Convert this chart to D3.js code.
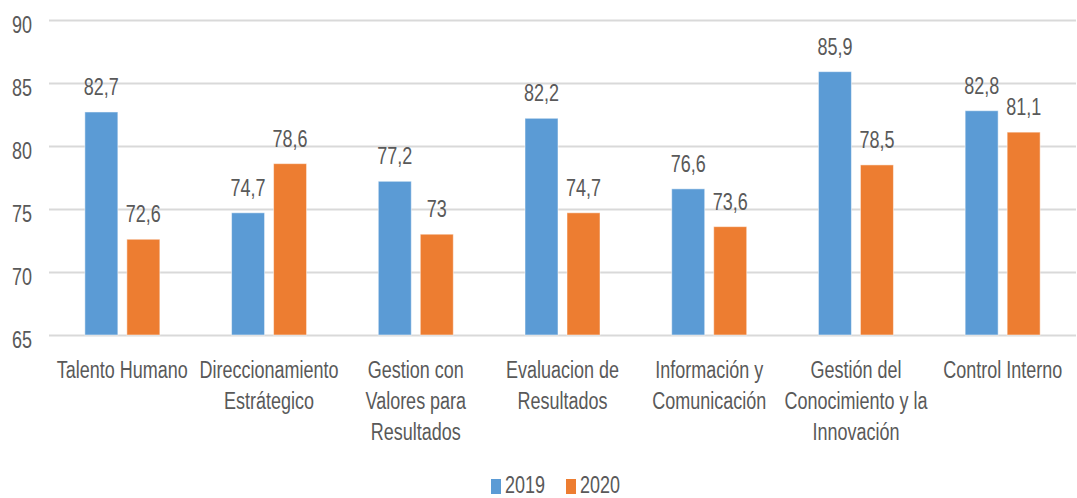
<!DOCTYPE html>
<html><head><meta charset="utf-8">
<script src="https://cdn.jsdelivr.net/npm/d3@7"></script>
<style>
html,body{margin:0;padding:0;background:#fff;}
svg text{font-family:"Liberation Sans",Arial,sans-serif;fill:#595959;}
</style></head>
<body><svg id="c" width="1077" height="498"></svg>
<script>
const categories = ["Talento Humano","Direccionamiento\nEstrátegico","Gestion con\nValores para\nResultados","Evaluacion de\nResultados","Información y\nComunicación","Gestión del\nConocimiento y la\nInnovación","Control Interno"];
const seriesNames = ["2019","2020"];
const values2019 = [82.7,74.7,77.2,82.2,76.6,85.9,82.8];
const values2020 = [72.6,78.6,73,74.7,73.6,78.5,81.1];
const valueLabels2019 = ["82,7","74,7","77,2","82,2","76,6","85,9","82,8"];
const valueLabels2020 = ["72,6","78,6","73","74,7","73,6","78,5","81,1"];
const yTicks = [65,70,75,80,85,90];
const colors = ["#5B9BD5","#ED7D31"];

(function(){
const svg = d3.select("#c");
const mLeft = 49, mRight = 1076, mTop = 20, mBottom = 335;
const FS = 18, SY = 1.32;
const x = d3.scaleBand().domain(categories).range([mLeft,mRight]).paddingInner(0).paddingOuter(0);
const y = d3.scaleLinear().domain([65,90]).range([mBottom,mTop]);
const barW = 33, gap = 9;

const yAxis = d3.axisLeft(y).tickValues(yTicks).tickSize(-(mRight-mLeft)).tickPadding(17).tickFormat(d3.format("d"));
const ga = svg.append("g").attr("transform",`translate(${mLeft},0)`).call(yAxis);
ga.select(".domain").remove();
ga.selectAll(".tick line").attr("stroke","#D9D9D9").attr("stroke-width",2);
ga.selectAll(".tick text").attr("font-size",FS).attr("fill","#595959").attr("font-family",null)
  .attr("dy",null).attr("y",9.2).attr("transform",`scale(1,${SY})`);

function stretchedText(g, tx, ty, str, anchor){
  return g.append("text").attr("transform",`translate(${tx},${ty}) scale(1,${SY})`)
    .attr("text-anchor",anchor||"middle").attr("font-size",FS).text(str);
}

const series = [values2019, values2020];
const labels = [valueLabels2019, valueLabels2020];
series.forEach((vals,si)=>{
  const g = svg.append("g");
  categories.forEach((c,i)=>{
    const cx = x(c) + x.bandwidth()/2;
    const bx = si===0 ? cx - gap/2 - barW : cx + gap/2;
    g.append("rect").attr("x",bx).attr("y",y(vals[i])).attr("width",barW)
      .attr("height",y(65)-y(vals[i])).attr("fill",colors[si])
      .attr("stroke","rgba(255,255,255,0.5)").attr("stroke-width",1);
    stretchedText(g, bx+barW/2, y(vals[i])-17, labels[si][i]);
  });
});

const cg = svg.append("g");
categories.forEach(c=>{
  const cx = x(c) + x.bandwidth()/2;
  c.split("\n").forEach((ln,k)=>{
    stretchedText(cg, cx, 378+k*31, ln);
  });
});

const lg = svg.append("g");
const lx = [491,566];
seriesNames.forEach((s,i)=>{
  lg.append("rect").attr("x",lx[i]).attr("y",479).attr("width",10).attr("height",15).attr("fill",colors[i]);
  stretchedText(lg, lx[i]+14, 493, s, "start");
});
})();
</script></body></html>
